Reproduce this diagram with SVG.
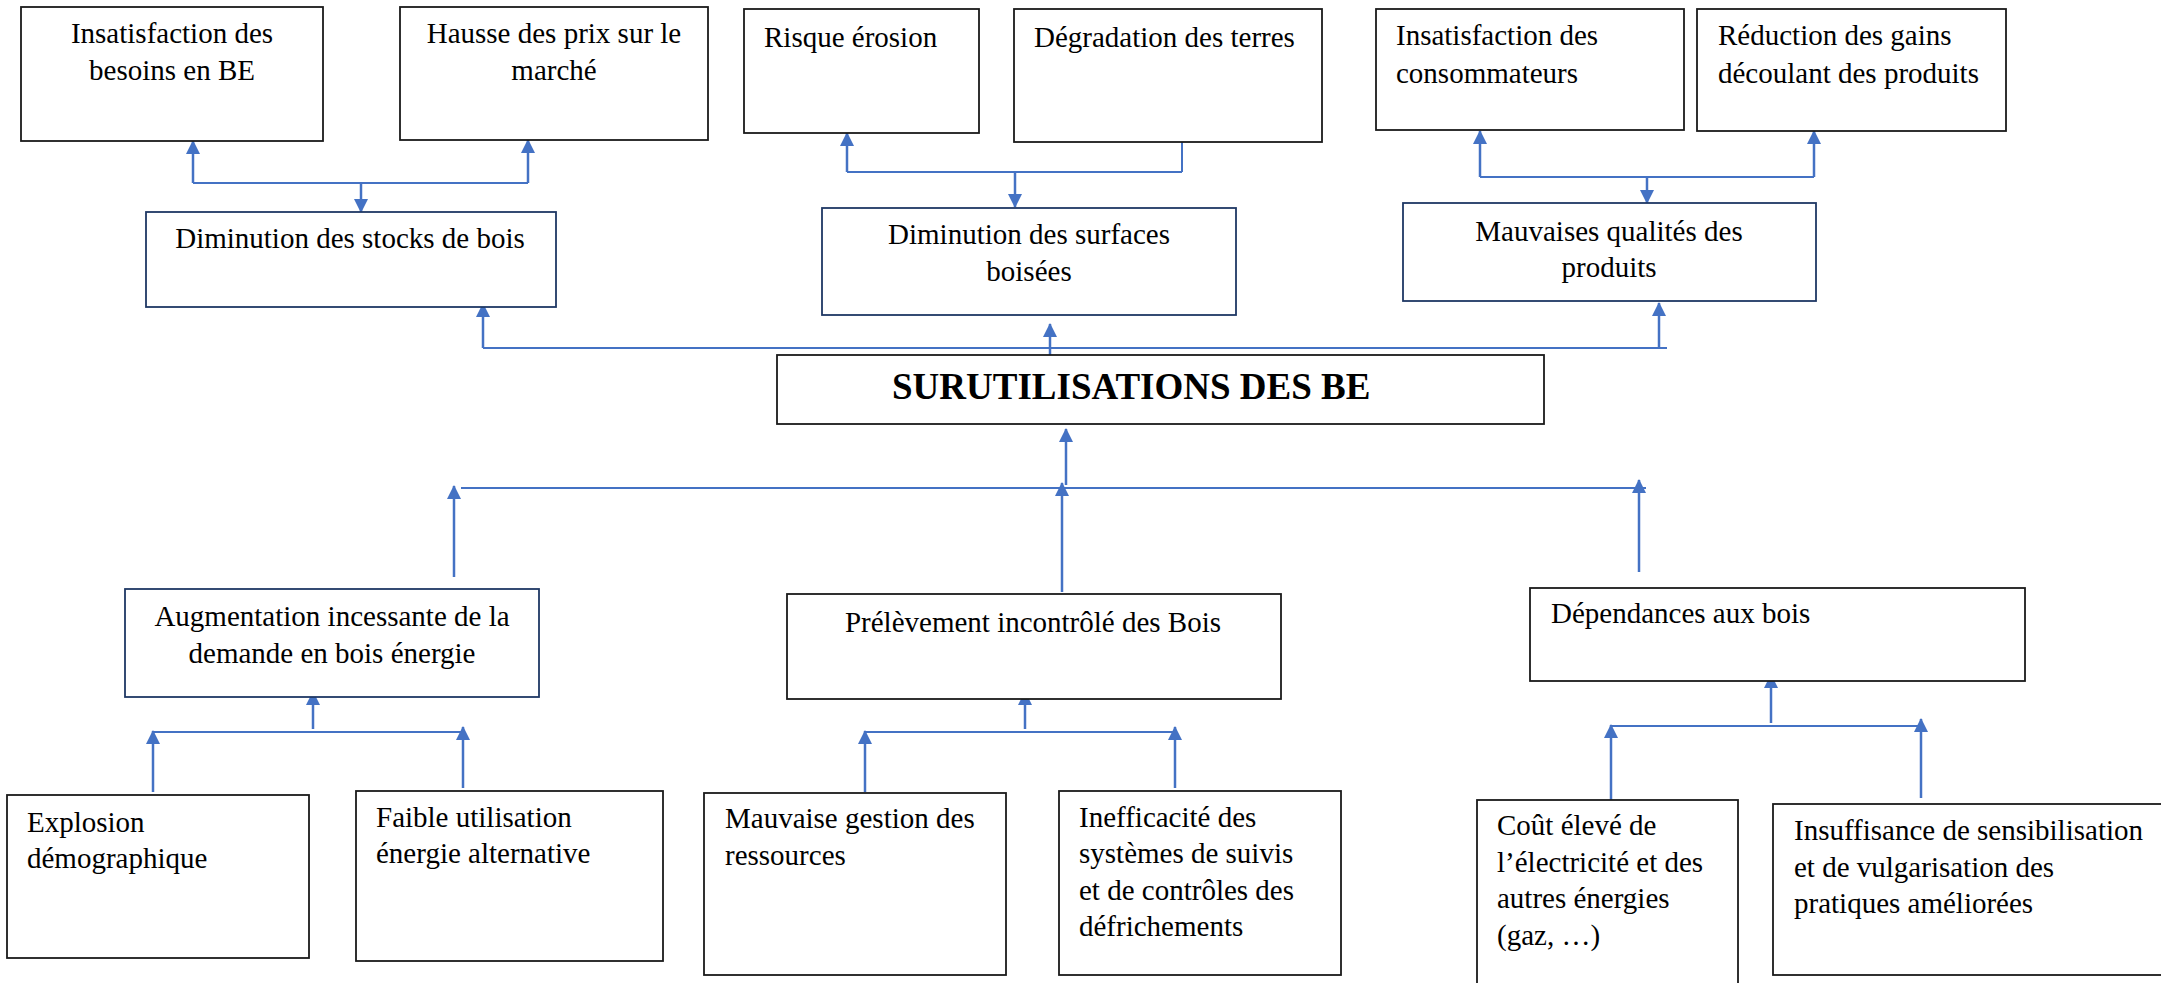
<svg xmlns="http://www.w3.org/2000/svg" width="2161" height="983" viewBox="0 0 2161 983">
  <defs>
    <style>
      .box { fill: #ffffff; stroke: #1a1a1a; stroke-width: 1.8; }
      .mid { fill: #ffffff; stroke: #1f3864; stroke-width: 1.8; }
      .t { font-family: "Liberation Serif", "Times New Roman", serif; font-size: 29px; fill: #000000; }
      .c { text-anchor: middle; }
      .title { font-family: "Liberation Serif", "Times New Roman", serif; font-size: 37px; font-weight: bold; fill: #000000; }
      .ln { fill: none; stroke: #4472c4; stroke-width: 2; }
      .ar { fill: none; stroke: #4472c4; stroke-width: 2.5; marker-end: url(#ah); }
    </style>
    <marker id="ah" viewBox="0 0 14 14" refX="13" refY="7" markerWidth="14" markerHeight="14" markerUnits="userSpaceOnUse" orient="auto">
      <path d="M0,0 L14,7 L0,14 z" fill="#4472c4"/>
    </marker>
  </defs>
  <rect width="2161" height="983" fill="#ffffff"/>

  <!-- connectors -->
  <g id="connectors">
    <!-- top-left cluster -->
    <line class="ln" x1="193" y1="183" x2="528" y2="183"/>
    <line class="ar" x1="193" y1="183" x2="193" y2="141"/>
    <line class="ar" x1="528" y1="183" x2="528" y2="140"/>
    <line class="ar" x1="361" y1="183" x2="361" y2="212"/>
    <!-- top-middle cluster -->
    <line class="ln" x1="847" y1="172" x2="1182" y2="172"/>
    <line class="ar" x1="847" y1="172" x2="847" y2="133"/>
    <line class="ln" x1="1182" y1="142" x2="1182" y2="172"/>
    <line class="ar" x1="1015" y1="172" x2="1015" y2="207"/>
    <!-- top-right cluster -->
    <line class="ln" x1="1480" y1="177" x2="1814" y2="177"/>
    <line class="ar" x1="1480" y1="177" x2="1480" y2="131"/>
    <line class="ar" x1="1814" y1="177" x2="1814" y2="131"/>
    <line class="ar" x1="1647" y1="177" x2="1647" y2="203"/>
    <!-- central effects distributor -->
    <line class="ln" x1="483" y1="348" x2="1667" y2="348"/>
    <line class="ar" x1="483" y1="348" x2="483" y2="304"/>
    <line class="ar" x1="1050" y1="360" x2="1050" y2="324"/>
    <line class="ar" x1="1659" y1="348" x2="1659" y2="303"/>
    <!-- central causes distributor -->
    <line class="ln" x1="461" y1="488" x2="1646" y2="488"/>
    <line class="ar" x1="454" y1="577" x2="454" y2="486"/>
    <line class="ar" x1="1062" y1="592" x2="1062" y2="483"/>
    <line class="ar" x1="1066" y1="485" x2="1066" y2="429"/>
    <line class="ar" x1="1639" y1="572" x2="1639" y2="480"/>
    <!-- bottom-left cluster -->
    <line class="ln" x1="153" y1="732" x2="463" y2="732"/>
    <line class="ar" x1="313" y1="729" x2="313" y2="692"/>
    <line class="ar" x1="153" y1="792" x2="153" y2="731"/>
    <line class="ar" x1="463" y1="788" x2="463" y2="727"/>
    <!-- bottom-middle cluster -->
    <line class="ln" x1="865" y1="732" x2="1175" y2="732"/>
    <line class="ar" x1="1025" y1="729" x2="1025" y2="692"/>
    <line class="ar" x1="865" y1="792" x2="865" y2="731"/>
    <line class="ar" x1="1175" y1="788" x2="1175" y2="727"/>
    <!-- bottom-right cluster -->
    <line class="ln" x1="1611" y1="726" x2="1921" y2="726"/>
    <line class="ar" x1="1771" y1="723" x2="1771" y2="675"/>
    <line class="ar" x1="1611" y1="804" x2="1611" y2="725"/>
    <line class="ar" x1="1921" y1="798" x2="1921" y2="719"/>
  </g>

  <!-- top row: consequences -->
  <g id="besoins">
    <rect class="box" x="21" y="7" width="302" height="134"/>
    <text class="t c" x="172" y="43">Insatisfaction des</text>
    <text class="t c" x="172" y="80">besoins en BE</text>
  </g>
  <g id="prix">
    <rect class="box" x="400" y="7" width="308" height="133"/>
    <text class="t c" x="554" y="43">Hausse des prix sur le</text>
    <text class="t c" x="554" y="80">marché</text>
  </g>
  <g id="erosion">
    <rect class="box" x="744" y="9" width="235" height="124"/>
    <text class="t" x="764" y="47">Risque érosion</text>
  </g>
  <g id="degradation">
    <rect class="box" x="1014" y="9" width="308" height="133"/>
    <text class="t" x="1034" y="47">Dégradation des terres</text>
  </g>
  <g id="consommateurs">
    <rect class="box" x="1376" y="9" width="308" height="121"/>
    <text class="t" x="1396" y="45">Insatisfaction des</text>
    <text class="t" x="1396" y="83">consommateurs</text>
  </g>
  <g id="gains">
    <rect class="box" x="1697" y="9" width="309" height="122"/>
    <text class="t" x="1718" y="45">Réduction des gains</text>
    <text class="t" x="1718" y="83">découlant des produits</text>
  </g>

  <!-- second row: direct effects -->
  <g id="stocks">
    <rect class="mid" x="146" y="212" width="410" height="95"/>
    <text class="t c" x="350" y="248">Diminution des stocks de bois</text>
  </g>
  <g id="surfaces">
    <rect class="mid" x="822" y="208" width="414" height="107"/>
    <text class="t c" x="1029" y="244">Diminution des surfaces</text>
    <text class="t c" x="1029" y="281">boisées</text>
  </g>
  <g id="qualites">
    <rect class="mid" x="1403" y="203" width="413" height="98"/>
    <text class="t c" x="1609" y="241">Mauvaises qualités des</text>
    <text class="t c" x="1609" y="277">produits</text>
  </g>

  <!-- core problem -->
  <g id="probleme">
    <rect class="box" x="777" y="355" width="767" height="69"/>
    <text class="title" x="892" y="399">SURUTILISATIONS DES BE</text>
  </g>

  <!-- direct causes -->
  <g id="demande">
    <rect class="mid" x="125" y="589" width="414" height="108"/>
    <text class="t c" x="332" y="626">Augmentation incessante de la</text>
    <text class="t c" x="332" y="663">demande en bois énergie</text>
  </g>
  <g id="prelevement">
    <rect class="box" x="787" y="594" width="494" height="105"/>
    <text class="t c" x="1033" y="632">Prélèvement incontrôlé des Bois</text>
  </g>
  <g id="dependances">
    <rect class="box" x="1530" y="588" width="495" height="93"/>
    <text class="t" x="1551" y="623">Dépendances aux bois</text>
  </g>

  <!-- root causes -->
  <g id="demographie">
    <rect class="box" x="7" y="795" width="302" height="163"/>
    <text class="t" x="27" y="832">Explosion</text>
    <text class="t" x="27" y="868">démographique</text>
  </g>
  <g id="alternative">
    <rect class="box" x="356" y="791" width="307" height="170"/>
    <text class="t" x="376" y="827">Faible utilisation</text>
    <text class="t" x="376" y="863">énergie alternative</text>
  </g>
  <g id="gestion">
    <rect class="box" x="704" y="793" width="302" height="182"/>
    <text class="t" x="725" y="828">Mauvaise gestion des</text>
    <text class="t" x="725" y="865">ressources</text>
  </g>
  <g id="suivis">
    <rect class="box" x="1059" y="791" width="282" height="184"/>
    <text class="t" x="1079" y="827">Inefficacité des</text>
    <text class="t" x="1079" y="863">systèmes de suivis</text>
    <text class="t" x="1079" y="900">et de contrôles des</text>
    <text class="t" x="1079" y="936">défrichements</text>
  </g>
  <g id="cout">
    <rect class="box" x="1477" y="800" width="261" height="200"/>
    <text class="t" x="1497" y="835">Coût élevé de</text>
    <text class="t" x="1497" y="872">l’électricité et des</text>
    <text class="t" x="1497" y="908">autres énergies</text>
    <text class="t" x="1497" y="945">(gaz, …)</text>
  </g>
  <g id="sensibilisation">
    <rect class="box" x="1773" y="804" width="400" height="171"/>
    <text class="t" x="1794" y="840">Insuffisance de sensibilisation</text>
    <text class="t" x="1794" y="877">et de vulgarisation des</text>
    <text class="t" x="1794" y="913">pratiques améliorées</text>
  </g>
</svg>
